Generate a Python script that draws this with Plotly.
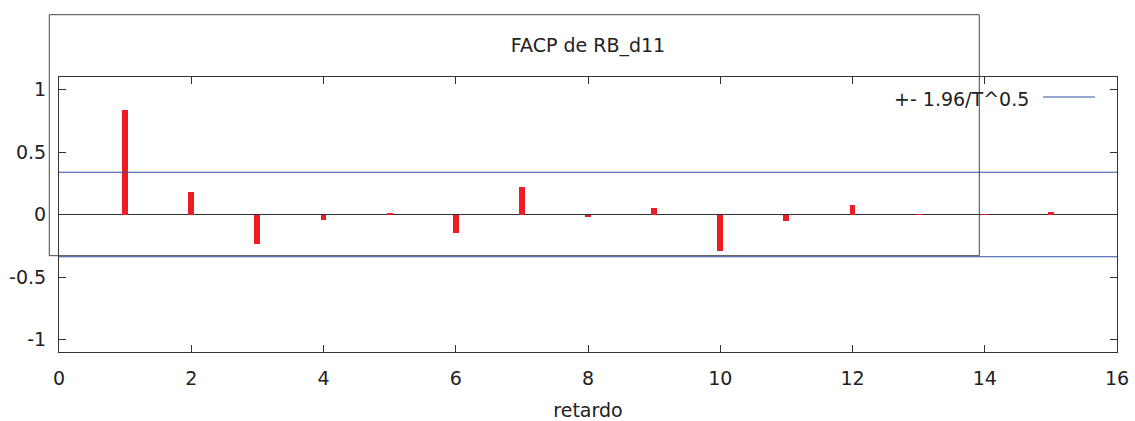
import plotly.graph_objects as go

# Data
lags = [1, 2, 3, 4, 5, 6, 7, 8, 9, 10, 11, 12, 13, 14, 15]
pacf = [0.84, 0.178, -0.235, -0.045, 0.008, -0.15, 0.218, -0.022, 0.056,
        -0.288, -0.053, 0.08, 0.003, -0.002, 0.024]
band = 0.338
x_range = [0, 16]
y_range = [-1.1, 1.1]
x_ticks = [0, 2, 4, 6, 8, 10, 12, 14, 16]
y_ticks = [-1, -0.5, 0, 0.5, 1]
y_ticklabels = ["-1", "-0.5", "0", "0.5", "1"]
title = "FACP de RB_d11"
legend_label = "+- 1.96/T^0.5"
x_title = "retardo"

W, H = 1135, 421
L, R, T, B = 59, 1117, 77, 352  # plot area pixels

FONT = "DejaVu Sans"
FS = 19
TXT = "#222222"
AX = "#333333"
BLUE = "#2f50a6"
RED = "#ee1d24"

fig = go.Figure()
fig.add_trace(go.Scatter(x=x_range, y=[band, band], mode="lines",
                         line=dict(color=BLUE, width=1.2), showlegend=False,
                         hoverinfo="skip"))
fig.add_trace(go.Scatter(x=x_range, y=[-band, -band], mode="lines",
                         line=dict(color=BLUE, width=1.2), showlegend=False,
                         hoverinfo="skip"))
fig.add_trace(go.Bar(x=lags, y=pacf, width=0.088, marker=dict(color=RED, line=dict(width=0)),
                     showlegend=False))

fig.update_layout(
    width=W, height=H,
    margin=dict(l=0, r=0, t=0, b=0),
    paper_bgcolor="white", plot_bgcolor="white",
    font=dict(family=FONT, size=FS, color=TXT),
    showlegend=False,
    title=dict(text=title, x=(L + R) / 2 / W, xanchor="center",
               y=1 - 45 / H, yanchor="middle", yref="container",
               font=dict(size=FS, color=TXT, family=FONT)),
    xaxis=dict(domain=[L / W, R / W], range=x_range, tickvals=x_ticks,
               ticks="inside", ticklen=7, tickcolor=AX, tickwidth=1,
               showline=True, linecolor=AX, linewidth=1, mirror="ticks",
               showgrid=False, zeroline=False, automargin=False,
               ticklabelstandoff=9,
               tickfont=dict(size=FS, color=TXT, family=FONT),
               title=dict(text=x_title, standoff=17,
                          font=dict(size=FS, color=TXT, family=FONT))),
    yaxis=dict(domain=[1 - B / H, 1 - T / H], range=y_range, tickvals=y_ticks,
               ticktext=y_ticklabels,
               ticks="inside", ticklen=7, tickcolor=AX, tickwidth=1,
               showline=True, linecolor=AX, linewidth=1, mirror="ticks",
               showgrid=False, zeroline=True, zerolinecolor=AX, zerolinewidth=1,
               automargin=False, ticklabelstandoff=8,
               tickfont=dict(size=FS, color=TXT, family=FONT)),
    bargap=0,
)

# Stray frame box from the original export
fig.add_shape(type="rect", xref="paper", yref="paper",
              x0=49.3 / W, x1=979.3 / W, y0=1 - 255.7 / H, y1=1 - 14.7 / H,
              line=dict(color="#444444", width=1), fillcolor="rgba(0,0,0,0)",
              layer="above")

# Legend (text left of the sample line)
fig.add_annotation(xref="paper", yref="paper", x=1031 / W, y=1 - 98.5 / H,
                   xanchor="right", yanchor="middle", showarrow=False,
                   text=legend_label, font=dict(size=FS, color=TXT, family=FONT))
fig.add_shape(type="line", xref="paper", yref="paper",
              x0=1043 / W, x1=1095 / W, y0=1 - 97 / H, y1=1 - 97 / H,
              line=dict(color=BLUE, width=1.2))

fig.write_html("out.html", config={"displayModeBar": False},
               post_script="document.body.style.margin='0';document.body.style.overflow='hidden';")
